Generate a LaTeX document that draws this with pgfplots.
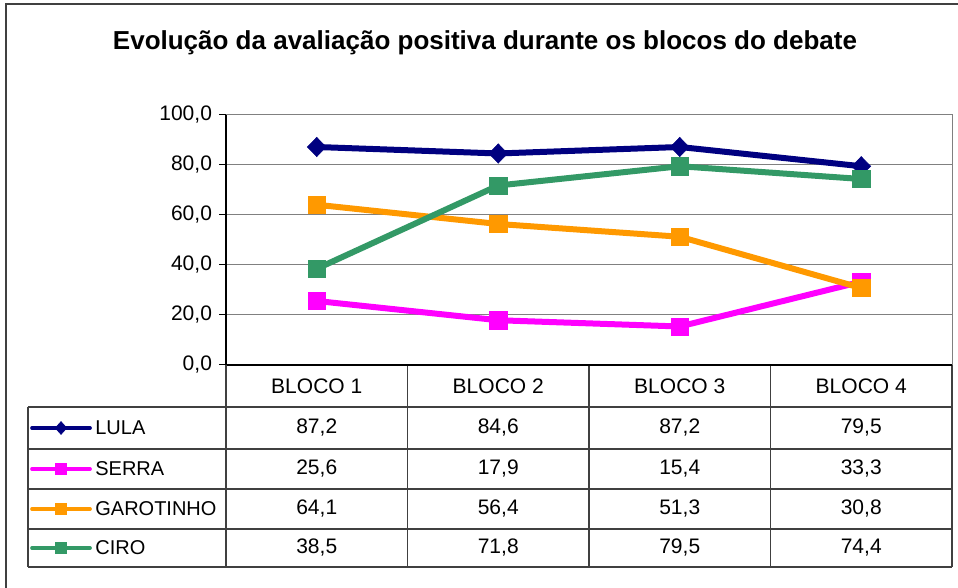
\documentclass[border=0pt]{standalone}
\usepackage{pgfplots}
\pgfplotsset{compat=1.18}
\usepackage{fontspec}
\setmainfont{Liberation Sans}
\definecolor{lula}{HTML}{000080}
\definecolor{serra}{HTML}{FF00FF}
\definecolor{garo}{HTML}{FF9900}
\definecolor{ciro}{HTML}{339966}
\definecolor{frame}{HTML}{404040}
\begin{document}
\begin{tikzpicture}
\useasboundingbox (0,0) rectangle (479pt,294pt);
\draw[line width=1pt, color=frame] (3pt,0) -- (3pt,292pt) -- (479pt,292pt);
\node[font=\bfseries\fontsize{13}{15}\selectfont] at (242.5pt,272.5pt) {Evolução da avaliação positiva durante os blocos do debate};
\begin{axis}[
  at={(113pt,111.5pt)}, anchor=south west,
  scale only axis, width=363pt, height=125pt,
  xmin=-0.5, xmax=3.5, ymin=0, ymax=100,
  ytick={0,20,40,60,80,100}, xtick=\empty,
  ytick pos=left, tick align=outside, major tick length=3.5pt,
  tick style={black, line width=0.5pt},
  ymajorgrids, grid style={gray, line width=0.5pt},
  axis line style={draw=none},
  clip=false,
  yticklabel style={font=\fontsize{10.5}{12}\selectfont},
  /pgf/number format/.cd, fixed, fixed zerofill, precision=1, use comma, assume math mode=true,
]
% series
\addplot[lula, line width=3pt, mark=diamond*, mark size=4.8pt, mark options={xscale=1.3, line width=0.3pt}] coordinates {(0,87.2)(1,84.6)(2,87.2)(3,79.5)};
\addplot[serra, line width=3pt, mark=square*, mark size=4.3pt, mark options={line width=0.3pt}] coordinates {(0,25.6)(1,17.9)(2,15.4)(3,33.3)};
\addplot[garo, line width=3pt, mark=square*, mark size=4.3pt, mark options={line width=0.3pt}] coordinates {(0,64.1)(1,56.4)(2,51.3)(3,30.8)};
\addplot[ciro, line width=3pt, mark=square*, mark size=4.3pt, mark options={line width=0.3pt}] coordinates {(0,38.5)(1,71.8)(2,79.5)(3,74.4)};
% legend keys in the table
\addplot[lula, line width=1.8pt, line cap=round, mark=diamond*, mark size=3.2pt, mark indices={2}, mark options={xscale=1.2, line width=0.3pt}] coordinates {(-1.569,-25.2)(-1.409,-25.2)(-1.249,-25.2)};
\addplot[serra, line width=1.8pt, line cap=round, mark=square*, mark size=2.7pt, mark indices={2}, mark options={line width=0.3pt}] coordinates {(-1.569,-41.6)(-1.409,-41.6)(-1.249,-41.6)};
\addplot[garo, line width=1.8pt, line cap=round, mark=square*, mark size=2.7pt, mark indices={2}, mark options={line width=0.3pt}] coordinates {(-1.569,-57.6)(-1.409,-57.6)(-1.249,-57.6)};
\addplot[ciro, line width=1.8pt, line cap=round, mark=square*, mark size=2.7pt, mark indices={2}, mark options={line width=0.3pt}] coordinates {(-1.569,-73.2)(-1.409,-73.2)(-1.249,-73.2)};
% plot frame
\draw[gray, line width=0.5pt] (rel axis cs:0,1) -- (rel axis cs:1,1) -- (rel axis cs:1,0);
% table lines
\draw[frame, line width=0.6pt]
  (axis cs:-1.591,-16.8) -- (axis cs:3.5,-16.8)
  (axis cs:-1.591,-33.6) -- (axis cs:3.5,-33.6)
  (axis cs:-1.591,-49.6) -- (axis cs:3.5,-49.6)
  (axis cs:-1.591,-65.6) -- (axis cs:3.5,-65.6)
  (axis cs:-1.591,-80.8) -- (axis cs:3.5,-80.8)
  (axis cs:-1.591,-16.8) -- (axis cs:-1.591,-80.8)
  (axis cs:0.5,0) -- (axis cs:0.5,-80.8)
  (axis cs:1.5,0) -- (axis cs:1.5,-80.8)
  (axis cs:2.5,0) -- (axis cs:2.5,-80.8)
  (axis cs:3.5,0) -- (axis cs:3.5,-80.8);
\draw[black, line width=0.9pt] (axis cs:-0.5,100) -- (axis cs:-0.5,0) -- (axis cs:3.5,0);
\draw[frame, line width=0.6pt] (axis cs:-0.5,0) -- (axis cs:-0.5,-80.8);
% table texts
\begin{scope}[every node/.style={font=\fontsize{10.5}{12}\selectfont}]
\node at (axis cs:0,-8.4) {BLOCO 1};
\node at (axis cs:1,-8.4) {BLOCO 2};
\node at (axis cs:2,-8.4) {BLOCO 3};
\node at (axis cs:3,-8.4) {BLOCO 4};
\node at (axis cs:0,-25.2) {87,2};
\node at (axis cs:1,-25.2) {84,6};
\node at (axis cs:2,-25.2) {87,2};
\node at (axis cs:3,-25.2) {79,5};
\node at (axis cs:0,-41.6) {25,6};
\node at (axis cs:1,-41.6) {17,9};
\node at (axis cs:2,-41.6) {15,4};
\node at (axis cs:3,-41.6) {33,3};
\node at (axis cs:0,-57.6) {64,1};
\node at (axis cs:1,-57.6) {56,4};
\node at (axis cs:2,-57.6) {51,3};
\node at (axis cs:3,-57.6) {30,8};
\node at (axis cs:0,-73.2) {38,5};
\node at (axis cs:1,-73.2) {71,8};
\node at (axis cs:2,-73.2) {79,5};
\node at (axis cs:3,-73.2) {74,4};
\end{scope}
\begin{scope}[every node/.style={font=\fontsize{10}{12}\selectfont, anchor=west, inner sep=0pt}]
\node at (axis cs:-1.222,-25.2) {LULA};
\node at (axis cs:-1.222,-41.6) {SERRA};
\node at (axis cs:-1.222,-57.6) {GAROTINHO};
\node at (axis cs:-1.222,-73.2) {CIRO};
\end{scope}
\end{axis}
\end{tikzpicture}
\end{document}
